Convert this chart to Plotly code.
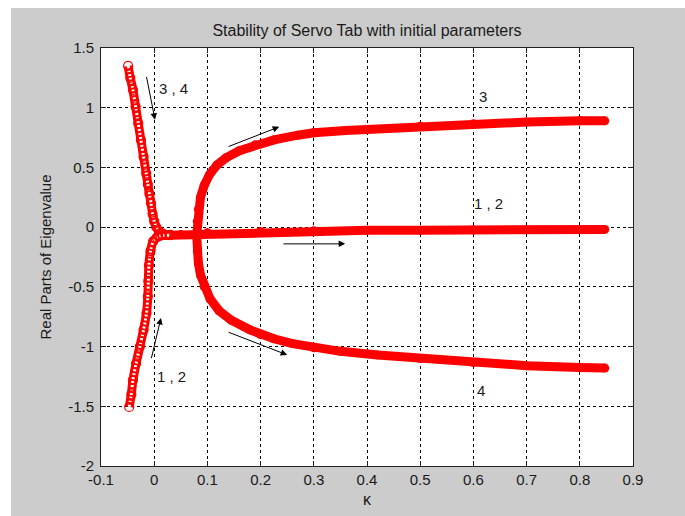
import plotly.graph_objects as go

# Root locus of the servo-tab eigenvalues: real part vs. kappa
# Branch for kappa < 0: eigenvalues 3,4 (coming down from +1.35)
k_34_neg = [-0.049, -0.045, -0.040, -0.035, -0.030, -0.025, -0.020, -0.015,
            -0.012, -0.009, -0.006, -0.003, 0.000, 0.004, 0.009, 0.016, 0.030]
re_34_neg = [1.35, 1.25, 1.15, 1.01, 0.87, 0.73, 0.59, 0.45,
             0.36, 0.28, 0.20, 0.11, 0.05, 0.00, -0.035, -0.055, -0.065]

# Branch for kappa < 0: eigenvalues 1,2 (coming up from -1.5)
k_12_neg = [-0.047, -0.043, -0.040, -0.034, -0.027, -0.020, -0.0145,
            -0.012, -0.011, -0.010, -0.007, -0.002, 0.005, 0.012, 0.030]
re_12_neg = [-1.505, -1.40, -1.28, -1.14, -1.00, -0.86, -0.72,
             -0.58, -0.45, -0.32, -0.20, -0.12, -0.085, -0.072, -0.068]

# Eigenvalues 1,2 after coalescence (near zero)
k_12 = [0.012, 0.030, 0.050, 0.080, 0.100, 0.200, 0.300, 0.400,
        0.500, 0.600, 0.700, 0.800, 0.847]
re_12 = [-0.07, -0.068, -0.062, -0.052, -0.047, -0.036, -0.030, -0.027,
         -0.025, -0.022, -0.020, -0.019, -0.019]

# Eigenvalue 3 (upper branch after splitting)
k_3 = [0.080, 0.081, 0.083, 0.087, 0.094, 0.104, 0.118, 0.135, 0.160,
       0.190, 0.225, 0.270, 0.300, 0.360, 0.500, 0.600, 0.700, 0.800, 0.847]
re_3 = [-0.06, 0.05, 0.15, 0.25, 0.35, 0.44, 0.52, 0.58, 0.64,
        0.69, 0.73, 0.77, 0.79, 0.81, 0.845, 0.865, 0.88, 0.89, 0.89]

# Eigenvalue 4 (lower branch after splitting)
k_4 = [0.080, 0.081, 0.083, 0.087, 0.094, 0.105, 0.122, 0.145, 0.180,
       0.200, 0.225, 0.260, 0.300, 0.350, 0.420, 0.500, 0.600, 0.700, 0.800, 0.847]
re_4 = [-0.08, -0.20, -0.30, -0.40, -0.50, -0.60, -0.70, -0.78, -0.86,
        -0.90, -0.935, -0.975, -1.01, -1.04, -1.07, -1.10, -1.135, -1.16, -1.175, -1.18]

x_ticks = [-0.1, 0, 0.1, 0.2, 0.3, 0.4, 0.5, 0.6, 0.7, 0.8, 0.9]
x_labels = ["-0.1", "0", "0.1", "0.2", "0.3", "0.4", "0.5", "0.6", "0.7", "0.8", "0.9"]
y_ticks = [-2, -1.5, -1, -0.5, 0, 0.5, 1, 1.5]
y_labels = ["-2", "-1.5", "-1", "-0.5", "0", "0.5", "1", "1.5"]

RED = "#ff0000"
FONT = "Liberation Sans, Arial, sans-serif"
TXT = "#1a1a1a"

fig = go.Figure()

# thick red bands (densely overlapping circle markers)
for kx, ry in [(k_12, re_12), (k_3, re_3), (k_4, re_4)]:
    fig.add_trace(go.Scatter(x=kx, y=ry, mode="lines+markers",
                             line=dict(color=RED, width=9),
                             marker=dict(symbol="circle", size=9, color=RED),
                             showlegend=False, hoverinfo="skip"))

# sparser branches for kappa < 0: chain of open circles
for kx, ry in [(k_34_neg, re_34_neg), (k_12_neg, re_12_neg)]:
    fig.add_trace(go.Scatter(x=kx, y=ry, mode="lines",
                             line=dict(color=RED, width=9, shape="spline", smoothing=0.8),
                             showlegend=False, hoverinfo="skip"))
    fig.add_trace(go.Scatter(x=kx, y=ry, mode="lines",
                             line=dict(color="white", width=3, shape="spline", smoothing=0.8,
                                       dash="2px,2px"),
                             showlegend=False, hoverinfo="skip"))
    fig.add_trace(go.Scatter(x=kx, y=ry, mode="markers",
                             marker=dict(symbol="circle-open", size=9, color=RED,
                                         line=dict(width=1.2, color=RED)),
                             showlegend=False, hoverinfo="skip"))

# direction arrows: (tail_x, tail_y, head_x, head_y)
arrows = [
    (-0.015, 1.27, 0.0015, 0.90),
    (0.137, 0.67, 0.235, 0.84),
    (0.240, -0.14, 0.359, -0.14),
    (0.137, -0.875, 0.250, -1.07),
    (-0.006, -1.11, 0.0127, -0.76),
]
for tx, ty, hx, hy in arrows:
    fig.add_annotation(x=hx, y=hy, ax=tx, ay=ty, xref="x", yref="y",
                       axref="x", ayref="y", text="", showarrow=True,
                       arrowhead=2, arrowsize=1.3, arrowwidth=1, arrowcolor="black")

# branch labels
labels = [
    (0.005, 1.165, "3 , 4"),
    (0.607, 1.09, "3"),
    (0.598, 0.20, "1 , 2"),
    (0.603, -1.366, "4"),
    (0.002, -1.25, "1 , 2"),
]
for lx, ly, s in labels:
    fig.add_annotation(x=lx, y=ly, text=s, showarrow=False, xanchor="left",
                       yanchor="middle", font=dict(family=FONT, size=15, color=TXT))

# figure background (grey window with white plot box)
fig.add_shape(type="rect", xref="paper", yref="paper", x0=-0.1692, x1=1.2,
              y0=-0.2, y1=1.0957, fillcolor="#cccccc", line=dict(width=0), layer="below")
fig.add_shape(type="rect", xref="paper", yref="paper", x0=0, x1=1, y0=0, y1=1,
              fillcolor="white", line=dict(width=0), layer="below")

axis_common = dict(showline=True, linecolor="#222222", linewidth=1, mirror="ticks",
                   ticks="inside", ticklen=5, tickcolor="#222222",
                   showgrid=True, gridcolor="black", gridwidth=1, griddash="3px,3px",
                   zeroline=False, tickfont=dict(family=FONT, size=15, color=TXT))

fig.update_xaxes(range=[-0.1, 0.9], tickvals=x_ticks, ticktext=x_labels,
                 title=dict(text="κ", font=dict(family=FONT, size=16, color=TXT), standoff=6),
                 **axis_common)
fig.update_yaxes(range=[-2, 1.5], tickvals=y_ticks, ticktext=y_labels,
                 ticklabelstandoff=3,
                 title=dict(text="Real Parts of Eigenvalue",
                            font=dict(family=FONT, size=15, color=TXT), standoff=12),
                 **axis_common)

fig.update_layout(
    width=685, height=516,
    margin=dict(l=101, r=52, t=48, b=50),
    paper_bgcolor="white", plot_bgcolor="white",
    title=dict(text="Stability of Servo Tab with initial parameters",
               font=dict(family=FONT, size=16, color=TXT),
               x=0.5, xref="paper", xanchor="center", y=0.942, yanchor="middle"),
    showlegend=False,
)

fig.write_html("out.html")
